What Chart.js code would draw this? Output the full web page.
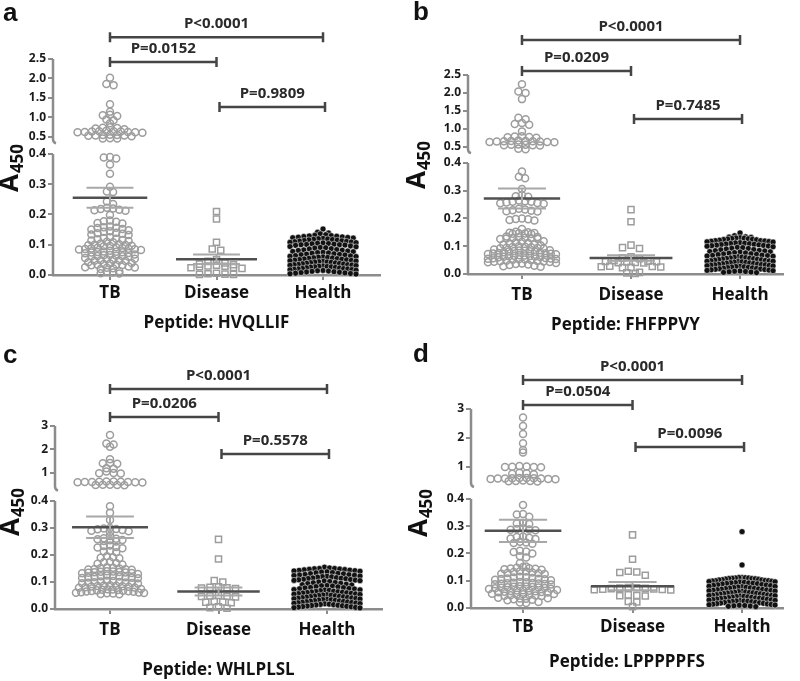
<!DOCTYPE html>
<html>
<head>
<meta charset="utf-8">
<script src="https://cdn.jsdelivr.net/npm/chart.js@4.4.1/dist/chart.umd.min.js"></script>
<style>
body { margin: 0; background: #fff; width: 800px; height: 681px; position: relative; overflow: hidden; }
canvas { position: absolute; }
</style>
</head>
<body>
<canvas id="cA" width="400" height="340" style="left:0;top:0"></canvas>
<canvas id="cB" width="400" height="340" style="left:400px;top:0"></canvas>
<canvas id="cC" width="400" height="341" style="left:0;top:340px"></canvas>
<canvas id="cD" width="400" height="341" style="left:400px;top:340px"></canvas>
<script>
'use strict';

var categories = ['TB', 'Disease', 'Health'];
var peptides = ['HVQLLIF', 'FHFPPVY', 'WHLPLSL', 'LPPPPPFS'];
var panelLetters = ['a', 'b', 'c', 'd'];
var yTicksLow = [0, 0.1, 0.2, 0.3, 0.4];
var yTicksHighAB = [0.5, 1.0, 1.5, 2.0, 2.5];
var yTicksHighCD = [1, 2, 3];
var bracketFrom = [0, 0, 1];
var bracketTo = [2, 1, 2];

// ---- panel a : HVQLLIF
var tbHighA = [2.02, 1.86, 1.83, 1.34, 1.15, 1.07, 1.06, 1.04, 0.95, 0.93, 0.85, 0.75, 0.74, 0.73, 0.72, 0.7,
  0.66, 0.65, 0.65, 0.64, 0.64, 0.63, 0.63, 0.62, 0.62, 0.61, 0.56, 0.55, 0.55, 0.54, 0.54, 0.53, 0.52, 0.47, 0.46, 0.46];
var tbLowA = [0.39, 0.388, 0.385, 0.365, 0.335, 0.292, 0.276, 0.274, 0.243, 0.235,
  0.222, 0.22, 0.218, 0.216, 0.214, 0.212, 0.198, 0.18, 0.178, 0.176, 0.172, 0.17,
  0.16, 0.158, 0.156, 0.155, 0.152, 0.15, 0.148, 0.145, 0.143, 0.14, 0.138, 0.136, 0.134, 0.132,
  0.125, 0.122, 0.12, 0.118, 0.116, 0.114, 0.112, 0.11, 0.108, 0.104, 0.102, 0.1, 0.099, 0.098, 0.097, 0.096, 0.095,
  0.092, 0.09, 0.089, 0.088, 0.087, 0.086, 0.085, 0.084, 0.083, 0.08, 0.078, 0.077, 0.076, 0.075, 0.074, 0.073, 0.072,
  0.068, 0.066, 0.065, 0.064, 0.063, 0.062, 0.061, 0.06, 0.056, 0.054, 0.052, 0.05, 0.049, 0.048, 0.047, 0.046,
  0.042, 0.04, 0.038, 0.036, 0.035, 0.034, 0.033, 0.032, 0.028, 0.026, 0.025, 0.024, 0.022, 0.02,
  0.012, 0.01, 0.008, 0.006, 0.005];
var diseaseA = [0.21, 0.185, 0.108, 0.086, 0.082, 0.05, 0.045, 0.04, 0.036, 0.034, 0.032, 0.03, 0.029, 0.027,
  0.025, 0.024, 0.022, 0.006, 0.004, 0.003, 0.002, 0.002];
var healthA = [0.152, 0.141, 0.139, 0.136, 0.133, 0.131, 0.13, 0.129, 0.128, 0.127, 0.126, 0.125, 0.124, 0.123,
  0.122, 0.121, 0.12, 0.119, 0.118, 0.117, 0.116, 0.115, 0.114, 0.113, 0.112, 0.111, 0.11, 0.109, 0.108, 0.107,
  0.106, 0.105, 0.104, 0.103, 0.102, 0.101, 0.1, 0.1, 0.099, 0.098, 0.096, 0.094, 0.093, 0.091, 0.09, 0.089,
  0.087, 0.086, 0.084, 0.083, 0.082, 0.081, 0.079, 0.078, 0.077, 0.075, 0.074, 0.073, 0.072, 0.07, 0.069, 0.068,
  0.067, 0.066, 0.064, 0.063, 0.062, 0.061, 0.06, 0.059, 0.058, 0.057, 0.056, 0.055, 0.054, 0.053, 0.052, 0.051,
  0.05, 0.049, 0.048, 0.047, 0.046, 0.045, 0.044, 0.043, 0.043, 0.042, 0.041, 0.04, 0.039, 0.038, 0.037, 0.036,
  0.035, 0.034, 0.034, 0.033, 0.032, 0.031, 0.03, 0.029, 0.028, 0.027, 0.027, 0.026, 0.025, 0.024, 0.023, 0.022,
  0.021, 0.02, 0.02, 0.019, 0.018, 0.017, 0.016, 0.015, 0.014, 0.013, 0.012, 0.011, 0.01, 0.009, 0.008, 0.007,
  0.006, 0.005, 0.004, 0.003];
var meanA = [0.255, 0.052, 0.05];
var semA = [0.033, 0.016, 0.004];
var pLabelsA = ['P<0.0001', 'P=0.0152', 'P=0.9809'];
var bracketLevelA = [3.06, 2.42, 1.27];

// ---- panel b : FHFPPVY
var tbHighB = [2.24, 2.04, 2.0, 1.83, 1.31, 1.27, 1.17, 1.14, 1.12, 0.93, 0.8, 0.79, 0.78, 0.77, 0.76,
  0.68, 0.67, 0.67, 0.66, 0.66, 0.65, 0.65, 0.64, 0.64, 0.63, 0.57, 0.56, 0.56, 0.55, 0.55, 0.54, 0.45, 0.44];
var tbLowB = [0.369, 0.35, 0.345, 0.306, 0.285, 0.28, 0.278, 0.265, 0.262, 0.26, 0.26, 0.258, 0.256, 0.255, 0.253,
  0.235, 0.232, 0.23, 0.228, 0.226, 0.225, 0.2, 0.198, 0.197, 0.195, 0.193, 0.162,
  0.152, 0.15, 0.149, 0.148, 0.147, 0.146, 0.145, 0.144, 0.135, 0.133, 0.132, 0.131, 0.13, 0.129, 0.128, 0.127, 0.126,
  0.118, 0.116, 0.114, 0.112, 0.11, 0.108, 0.106, 0.104, 0.1, 0.098, 0.097, 0.096, 0.095, 0.094, 0.093, 0.092,
  0.088, 0.086, 0.085, 0.084, 0.083, 0.082, 0.081, 0.08, 0.078, 0.077, 0.076, 0.075, 0.074, 0.073, 0.072, 0.071,
  0.068, 0.067, 0.066, 0.065, 0.064, 0.063, 0.062, 0.061, 0.06, 0.058, 0.057, 0.056, 0.055, 0.054, 0.053, 0.052,
  0.051, 0.05, 0.048, 0.047, 0.046, 0.045, 0.044, 0.043, 0.042, 0.04, 0.038, 0.036, 0.034, 0.032, 0.03, 0.028, 0.026];
var diseaseB = [0.232, 0.188, 0.104, 0.095, 0.092, 0.062, 0.058, 0.055, 0.048, 0.046, 0.045, 0.044, 0.043,
  0.042, 0.041, 0.04, 0.028, 0.027, 0.026, 0.025, 0.024, 0.023, 0.006, 0.004, 0.002];
var healthB = [0.148, 0.138, 0.134, 0.133, 0.132, 0.131, 0.13, 0.129, 0.128, 0.127, 0.126, 0.125, 0.124, 0.123,
  0.122, 0.12, 0.12, 0.119, 0.118, 0.117, 0.116, 0.115, 0.113, 0.112, 0.111, 0.11, 0.109, 0.108, 0.107, 0.106,
  0.105, 0.104, 0.103, 0.102, 0.101, 0.1, 0.098, 0.096, 0.095, 0.093, 0.092, 0.09, 0.088, 0.087, 0.085,
  0.084, 0.083, 0.081, 0.08, 0.079, 0.077, 0.076, 0.075, 0.073, 0.072, 0.071, 0.07, 0.068, 0.067, 0.066, 0.065,
  0.064, 0.062, 0.061, 0.06, 0.059, 0.058, 0.057, 0.056, 0.055, 0.054, 0.053, 0.052, 0.051, 0.05, 0.049, 0.048,
  0.047, 0.046, 0.046, 0.045, 0.044, 0.043, 0.042, 0.041, 0.04, 0.039, 0.038, 0.037, 0.036, 0.035, 0.034, 0.033,
  0.033, 0.032, 0.031, 0.03, 0.029, 0.028, 0.027, 0.026, 0.025, 0.024, 0.023, 0.022, 0.021, 0.02, 0.019, 0.018,
  0.017, 0.016, 0.015, 0.014, 0.013, 0.012, 0.011, 0.01, 0.009, 0.008, 0.007, 0.006, 0.005];
var meanB = [0.272, 0.058, 0.052];
var semB = [0.036, 0.01, 0.004];
var pLabelsB = ['P<0.0001', 'P=0.0209', 'P=0.7485'];
var bracketLevelB = [3.47, 2.61, 1.28];

// ---- panel c : WHLPLSL
var tbHighC = [2.62, 2.25, 2.21, 2.12, 1.58, 1.43, 1.41, 1.39, 1.2, 1.18, 1.06, 1.0, 0.99, 0.98,
  0.64, 0.64, 0.63, 0.63, 0.62, 0.62, 0.62, 0.61, 0.61, 0.6, 0.5, 0.5, 0.49, 0.49, 0.48];
var tbLowC = [0.381, 0.357, 0.33, 0.3, 0.298, 0.296, 0.295, 0.293, 0.29, 0.288, 0.285, 0.27,
  0.262, 0.26, 0.258, 0.256, 0.255, 0.252, 0.25, 0.235, 0.233, 0.23, 0.228, 0.225, 0.215, 0.213, 0.21,
  0.195, 0.192, 0.19, 0.188, 0.175, 0.173, 0.17, 0.168, 0.165,
  0.155, 0.153, 0.152, 0.15, 0.148, 0.147, 0.146, 0.145, 0.14, 0.139, 0.138, 0.137, 0.136, 0.135, 0.134, 0.133, 0.132, 0.13,
  0.124, 0.122, 0.121, 0.12, 0.119, 0.118, 0.117, 0.116, 0.115, 0.114, 0.105, 0.104, 0.102, 0.1, 0.099, 0.098, 0.097, 0.096, 0.095, 0.094,
  0.088, 0.087, 0.086, 0.085, 0.084, 0.083, 0.082, 0.081, 0.08, 0.079,
  0.074, 0.073, 0.072, 0.071, 0.07, 0.069, 0.068, 0.067, 0.066, 0.065, 0.064,
  0.062, 0.061, 0.06, 0.059, 0.058, 0.057, 0.056, 0.055];
var diseaseC = [0.258, 0.185, 0.105, 0.1, 0.082, 0.08, 0.079, 0.078, 0.076, 0.05, 0.048, 0.047, 0.046, 0.045,
  0.028, 0.026, 0.025, 0.023, 0.008, 0.005, 0.003];
var healthC = [0.155, 0.152, 0.15, 0.15, 0.149, 0.148, 0.147, 0.146, 0.145, 0.144, 0.143, 0.142, 0.141, 0.14,
  0.138, 0.137, 0.135, 0.134, 0.132, 0.131, 0.13, 0.128, 0.127, 0.126, 0.125, 0.124, 0.122, 0.121, 0.12, 0.119,
  0.118, 0.116, 0.115, 0.114, 0.113, 0.112, 0.11, 0.109, 0.108, 0.107, 0.106, 0.105, 0.104, 0.102, 0.1, 0.098,
  0.097, 0.095, 0.094, 0.092, 0.09, 0.089, 0.087, 0.086, 0.085, 0.083, 0.082, 0.08, 0.079, 0.078, 0.076, 0.075,
  0.074, 0.072, 0.071, 0.07, 0.069, 0.068, 0.066, 0.065, 0.064, 0.063, 0.062, 0.061, 0.06, 0.059, 0.058, 0.057,
  0.056, 0.055, 0.054, 0.053, 0.052, 0.051, 0.05, 0.049, 0.048, 0.047, 0.046, 0.045, 0.044, 0.043, 0.042, 0.041,
  0.04, 0.039, 0.038, 0.037, 0.036, 0.035, 0.034, 0.033, 0.032, 0.031, 0.03, 0.029, 0.028, 0.027, 0.026, 0.025,
  0.024, 0.023, 0.022, 0.021, 0.02, 0.019, 0.018, 0.017, 0.016, 0.015, 0.014, 0.013, 0.012, 0.011, 0.01, 0.009,
  0.008, 0.007, 0.006, 0.005, 0.004];
var meanC = [0.303, 0.065, 0.055];
var semC = [0.04, 0.015, 0.004];
var pLabelsC = ['P<0.0001', 'P=0.0206', 'P=0.5578'];
var bracketLevelC = [4.57, 3.38, 1.81];

// ---- panel d : LPPPPPFS
var tbHighD = [2.71, 2.41, 2.14, 1.82, 1.59, 1.5, 1.03, 1.02, 1.01, 1.0, 1.0, 0.99, 0.8, 0.78, 0.77, 0.75,
  0.62, 0.62, 0.61, 0.61, 0.6, 0.6, 0.6, 0.59, 0.59, 0.58, 0.53, 0.52, 0.52, 0.51, 0.5];
var tbLowD = [0.378, 0.345, 0.343, 0.335, 0.312, 0.31, 0.308, 0.292, 0.29, 0.288, 0.287, 0.285,
  0.262, 0.26, 0.258, 0.255, 0.253, 0.243, 0.24, 0.238, 0.236, 0.21, 0.207, 0.205, 0.2, 0.19, 0.185, 0.165,
  0.152, 0.15, 0.148, 0.146, 0.145, 0.144, 0.142, 0.14, 0.135, 0.134, 0.132, 0.13, 0.128, 0.127, 0.126, 0.125,
  0.115, 0.113, 0.112, 0.11, 0.108, 0.107, 0.106, 0.105, 0.104, 0.102,
  0.095, 0.094, 0.093, 0.092, 0.091, 0.09, 0.089, 0.088, 0.087, 0.086,
  0.08, 0.079, 0.078, 0.077, 0.076, 0.075, 0.074, 0.073, 0.072, 0.071, 0.07,
  0.066, 0.065, 0.064, 0.063, 0.062, 0.061, 0.06, 0.059, 0.058, 0.057,
  0.052, 0.051, 0.05, 0.049, 0.048, 0.047, 0.046, 0.045, 0.044, 0.038, 0.036, 0.035, 0.034, 0.032, 0.03, 0.028,
  0.022, 0.02, 0.018];
var diseaseD = [0.268, 0.179, 0.135, 0.132, 0.13, 0.12, 0.075, 0.074, 0.073, 0.072, 0.071, 0.07, 0.069, 0.068,
  0.067, 0.066, 0.048, 0.046, 0.045, 0.044, 0.024, 0.022, 0.005];
var healthD = [0.28, 0.158, 0.112, 0.112, 0.111, 0.11, 0.11, 0.109, 0.108, 0.108, 0.107, 0.106, 0.105, 0.104,
  0.103, 0.103, 0.101, 0.1, 0.1, 0.099, 0.098, 0.097, 0.096, 0.095, 0.094, 0.093, 0.092, 0.092, 0.091, 0.09,
  0.089, 0.088, 0.086, 0.085, 0.084, 0.083, 0.082, 0.08, 0.079, 0.078, 0.077,
  0.076, 0.075, 0.074, 0.073, 0.072, 0.071, 0.07, 0.069, 0.068, 0.067, 0.066, 0.065, 0.064, 0.063, 0.062, 0.061,
  0.06, 0.059, 0.058, 0.057, 0.056, 0.056, 0.055, 0.054, 0.053, 0.052, 0.051, 0.05, 0.049, 0.048, 0.047, 0.046,
  0.046, 0.045, 0.044, 0.043, 0.042, 0.041, 0.04, 0.039, 0.038, 0.037, 0.036, 0.036, 0.035, 0.034, 0.033, 0.032,
  0.031, 0.03, 0.029, 0.028, 0.027, 0.026, 0.026, 0.025, 0.024, 0.023, 0.022, 0.021, 0.02, 0.019, 0.018, 0.017,
  0.016, 0.015, 0.014, 0.013, 0.012, 0.011, 0.01, 0.009, 0.008, 0.007, 0.006, 0.005];
var meanD = [0.283, 0.08, 0.05];
var semD = [0.041, 0.015, 0.004];
var pLabelsD = ['P<0.0001', 'P=0.0504', 'P=0.0096'];
var bracketLevelD = [4.0, 3.14, 1.69];

// layout of each panel (pixels inside its own canvas)
var panels = [
  { canvas: 'cA', tbLow: tbLowA, tbHigh: tbHighA, disease: diseaseA, health: healthA, mean: meanA, sem: semA,
    pLabels: pLabelsA, levels: bracketLevelA, highTicks: yTicksHighAB, dec: 1,
    L: 53, R: 380, T: 59, B: 275, H: 340, lowMax: 0.4264, highMin: 0.269, highMax: 2.5, wLow: 129, wHigh: 87,
    xMin: -0.535, xMax: 2.535, catPad: 3, titlePad: 7, breakVal: 0.44, titleX: 11, titleY: 168, letterX: 3, letterY: 21 },
  { canvas: 'cB', tbLow: tbLowB, tbHigh: tbHighB, disease: diseaseB, health: healthB, mean: meanB, sem: semB,
    pLabels: pLabelsB, levels: bracketLevelB, highTicks: yTicksHighAB, dec: 1,
    L: 68, R: 383, T: 75, B: 274, H: 340, lowMax: 0.4288, highMin: 0.278, highMax: 2.5, wLow: 119, wHigh: 80,
    xMin: -0.495, xMax: 2.394, catPad: 6, titlePad: 5, breakVal: 0.44, titleX: 18, titleY: 165, letterX: 13, letterY: 20 },
  { canvas: 'cC', tbLow: tbLowC, tbHigh: tbHighC, disease: diseaseC, health: healthC, mean: meanC, sem: semC,
    pLabels: pLabelsC, levels: bracketLevelC, highTicks: yTicksHighCD, dec: 0,
    L: 55, R: 382, T: 86, B: 269, H: 341, lowMax: 0.426, highMin: 0.106, highMax: 3, wLow: 115, wHigh: 68,
    xMin: -0.507, xMax: 2.507, catPad: 6, titlePad: 1, breakVal: 0.42, titleX: 12, titleY: 172, letterX: 3, letterY: 23 },
  { canvas: 'cD', tbLow: tbLowD, tbHigh: tbHighD, disease: diseaseD, health: healthD, mean: meanD, sem: semD,
    pLabels: pLabelsD, levels: bracketLevelD, highTicks: yTicksHighCD, dec: 0,
    L: 71, R: 383, T: 69, B: 268, H: 341, lowMax: 0.429, highMin: 0.172, highMax: 3, wLow: 117, wHigh: 82,
    xMin: -0.475, xMax: 2.374, catPad: 4, titlePad: 9, breakVal: 0.45, titleX: 20, titleY: 173, letterX: 13, letterY: 22 }
];

var FONT = "'Open Sans', 'DejaVu Sans', sans-serif";
Chart.defaults.font.family = FONT;

// Prism-like scatter: points falling in the same pixel row are set side by side,
// centre-out, the highest one in the middle; a row never gets wider than maxW
function rowOffsets(py, rowH, gap, maxW) {
  var idx = py.map(function (y, i) { return i; }).sort(function (a, b) { return py[a] - py[b]; });
  var rows = [];
  var cur = null;
  idx.forEach(function (i) {
    if (!cur || py[i] - cur.start > rowH) { cur = { start: py[i], list: [] }; rows.push(cur); }
    cur.list.push(i);
  });
  var out = new Array(py.length);
  rows.forEach(function (row) {
    var n = row.list.length;
    var g = n > 1 ? Math.min(gap, maxW / (n - 1)) : gap;
    var slots = [];
    for (var k = 0; k < n; k++) slots.push(k - (n - 1) / 2);
    slots.sort(function (a, b) { return Math.abs(a) - Math.abs(b) || a - b; });
    row.list.forEach(function (i, k) { out[i] = slots[k] * g; });
  });
  return out;
}

function hLine(cat, half, y, color, width, order) {
  return { type: 'scatter', showLine: true, data: [{ x: cat - half, y: y }, { x: cat + half, y: y }],
    yAxisID: 'yLow', borderColor: color, borderWidth: width, pointRadius: 0, order: order, clip: false };
}

var extras = {
  id: 'extras',
  afterDatasetsDraw: function (chart) {
    var p = chart.options.plugins.extras.panel;
    var ctx = chart.ctx;
    var xs = chart.scales.x, lo = chart.scales.yLow, hi = chart.scales.yHigh;
    var L = chart.chartArea.left;
    ctx.save();
    // broken y axis
    ctx.strokeStyle = '#8c8c8c';
    ctx.lineWidth = 2.5;
    ctx.beginPath();
    ctx.moveTo(L, lo.getPixelForValue(0) + 1);
    ctx.lineTo(L, lo.getPixelForValue(yTicksLow[yTicksLow.length - 1]));
    var yb = hi.getPixelForValue(p.breakVal);
    ctx.moveTo(L, hi.getPixelForValue(p.highMax));
    ctx.lineTo(L, yb);
    ctx.quadraticCurveTo(L, yb + 3, L + 3, yb + 4);
    ctx.stroke();

    // significance brackets
    ctx.strokeStyle = '#454545';
    ctx.fillStyle = '#2a2a2a';
    ctx.lineWidth = 2.5;
    ctx.font = 'bold 15px ' + FONT;
    ctx.textAlign = 'center';
    ctx.textBaseline = 'middle';
    for (var i = 0; i < p.pLabels.length; i++) {
      var x1 = xs.getPixelForValue(bracketFrom[i]) + (i === 2 ? 3 : 0);
      var x2 = xs.getPixelForValue(bracketTo[i]) + (i === 2 ? 2 : 0);
      var y = hi.getPixelForValue(p.levels[i]);
      ctx.beginPath();
      ctx.moveTo(x1, y); ctx.lineTo(x2, y);
      ctx.moveTo(x1, y - 5); ctx.lineTo(x1, y + 5);
      ctx.moveTo(x2, y - 5); ctx.lineTo(x2, y + 5);
      ctx.stroke();
      ctx.fillText(p.pLabels[i], (x1 + x2) / 2, y - 13);
    }

    // y title A450
    ctx.translate(p.titleX, p.titleY);
    ctx.rotate(-Math.PI / 2);
    ctx.fillStyle = '#111';
    ctx.textAlign = 'left';
    ctx.font = 'bold 26px ' + FONT;
    var wA = ctx.measureText('A').width;
    ctx.font = 'bold 17px ' + FONT;
    var wS = ctx.measureText('450').width;
    var start = -(wA + 1 + wS) / 2;
    ctx.font = 'bold 26px ' + FONT;
    ctx.fillText('A', start, 0);
    ctx.font = 'bold 17px ' + FONT;
    ctx.fillText('450', start + wA + 1, 7);
    ctx.restore();

    // panel letter
    ctx.save();
    ctx.fillStyle = '#111';
    ctx.font = "bold 26px 'Liberation Sans', Arial, sans-serif";
    ctx.textBaseline = 'alphabetic';
    ctx.fillText(chart.options.plugins.extras.letter, p.letterX, p.letterY);
    ctx.restore();
  }
};

panels.forEach(function (p, idx) {
  var tbStyle = { pointStyle: 'circle', pointRadius: 3.5, borderColor: '#9d9d9d', backgroundColor: 'rgba(255,255,255,0)',
    borderWidth: 1.5, order: 5, clip: false };
  var datasets = [
    Object.assign({ type: 'scatter', label: 'TB', data: p.tbLow.map(function (v) { return { x: 0, y: v }; }),
      yAxisID: 'yLow', spread: { cat: 0, rowH: 4, gap: 6.2, maxW: 68 } }, tbStyle),
    Object.assign({ type: 'scatter', label: 'TB', data: p.tbHigh.map(function (v) { return { x: 0, y: v }; }),
      yAxisID: 'yHigh', spread: { cat: 0, rowH: 2, gap: 7.2, maxW: 68 } }, tbStyle),
    { type: 'scatter', label: 'Disease', data: p.disease.map(function (v) { return { x: 1, y: v }; }),
      yAxisID: 'yLow', spread: { cat: 1, rowH: 5, gap: 8.5, maxW: 80 }, pointStyle: 'rect', pointRadius: 4.3,
      borderColor: '#9d9d9d', backgroundColor: 'rgba(255,255,255,0)', borderWidth: 1.5, order: 5, clip: false },
    { type: 'scatter', label: 'Health', data: p.health.map(function (v) { return { x: 2, y: v }; }),
      yAxisID: 'yLow', spread: { cat: 2, rowH: 4.5, gap: 5.5, maxW: 66 }, pointStyle: 'circle', pointRadius: 3,
      borderColor: '#ffffff', backgroundColor: '#111111', borderWidth: 0.5, order: 4, clip: false }
  ];
  // mean and SEM bars (the Health one disappears inside its black cloud)
  [0, 1, 2].forEach(function (c) {
    var ord = c === 2 ? 6 : 0;
    var semCol = c === 2 ? '#111' : '#a8a8a8';
    var meanCol = c === 2 ? '#111' : '#505050';
    var m = p.mean[c], s = p.sem[c];
    datasets.push(hLine(c, 0.22, m + s, semCol, 2, ord));
    datasets.push(hLine(c, 0.22, m - s, semCol, 2, ord));
    datasets.push({ type: 'scatter', showLine: true, data: [{ x: c, y: m - s }, { x: c, y: m + s }],
      yAxisID: 'yLow', borderColor: semCol, borderWidth: 2, pointRadius: 0, order: ord });
    datasets.push(hLine(c, c === 1 ? 0.38 : (c === 2 ? 0.28 : 0.35), m, meanCol, 2.5, ord));
  });

  var tickFont = { size: 12, weight: 'bold' };
  var chart = new Chart(document.getElementById(p.canvas), {
    type: 'scatter',
    data: { datasets: datasets },
    options: {
      responsive: false,
      animation: false,
      devicePixelRatio: 1,
      layout: { padding: { top: p.T, right: 400 - p.R, left: 0, bottom: 0 } },
      plugins: { legend: { display: false }, tooltip: { enabled: false },
        extras: { panel: p, letter: panelLetters[idx] } },
      scales: {
        x: {
          type: 'linear', position: 'bottom', min: p.xMin, max: p.xMax,
          afterBuildTicks: function (s) { s.ticks = [0, 1, 2].map(function (v) { return { value: v }; }); },
          afterFit: function (s) { s.height = p.H - p.B; },
          ticks: { autoSkip: false, maxRotation: 0, padding: p.catPad, color: '#111',
            font: { size: 17, weight: 'bold' },
            callback: function (v) { return categories[v]; } },
          grid: { drawOnChartArea: false, drawTicks: true, tickLength: 5, color: '#8c8c8c', lineWidth: 2 },
          border: { display: true, color: '#8c8c8c', width: 2.5 },
          title: { display: true, text: 'Peptide: ' + peptides[idx], color: '#111',
            font: { size: 17, weight: 'bold' }, padding: { top: 0, bottom: p.titlePad } }
        },
        yLow: {
          type: 'linear', position: 'left', stack: 'y', stackWeight: p.wLow, weight: 1,
          min: 0, max: p.lowMax,
          afterBuildTicks: function (s) { s.ticks = yTicksLow.map(function (v) { return { value: v }; }); },
          afterFit: function (s) { s.width = p.L; },
          ticks: { autoSkip: false, padding: 2, color: '#1a1a1a', font: tickFont,
            callback: function (v) { return v.toFixed(1); } },
          grid: { drawOnChartArea: false, drawTicks: true, tickLength: 5, color: '#8c8c8c', lineWidth: 2 },
          border: { display: false }
        },
        yHigh: {
          type: 'linear', position: 'left', stack: 'y', stackWeight: p.wHigh, weight: 2,
          min: p.highMin, max: p.highMax,
          afterBuildTicks: function (s) { s.ticks = p.highTicks.map(function (v) { return { value: v }; }); },
          afterFit: function (s) { s.width = p.L; },
          ticks: { autoSkip: false, padding: 2, color: '#1a1a1a', font: tickFont,
            callback: function (v) { return v.toFixed(p.dec); } },
          grid: { drawOnChartArea: false, drawTicks: true, tickLength: 5, color: '#8c8c8c', lineWidth: 2 },
          border: { display: false }
        }
      }
    },
    plugins: [extras]
  });

  // lay the points of each group out sideways, row by row, using the real scales
  var xs = chart.scales.x;
  var unit = xs.getPixelForValue(1) - xs.getPixelForValue(0);
  chart.data.datasets.forEach(function (ds) {
    if (!ds.spread) return;
    var ys = chart.scales[ds.yAxisID];
    var py = ds.data.map(function (d) { return ys.getPixelForValue(d.y); });
    var off = rowOffsets(py, ds.spread.rowH, ds.spread.gap, ds.spread.maxW);
    ds.data.forEach(function (d, i) { d.x = ds.spread.cat + off[i] / unit; });
  });
  chart.update('none');
});
</script>
</body>
</html>
